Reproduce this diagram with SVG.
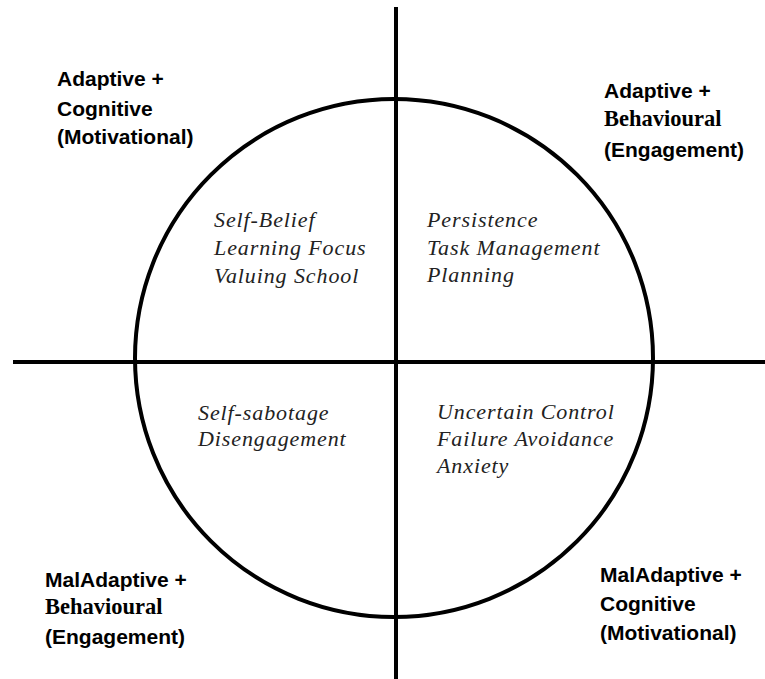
<svg xmlns="http://www.w3.org/2000/svg" width="765" height="679" viewBox="0 0 765 679">
<style>
.lbl{font-family:"Liberation Sans",Arial,sans-serif;font-weight:bold;font-size:21px;fill:#000}
.ser{font-family:"Liberation Serif","Times New Roman",serif;font-weight:bold;font-size:22.5px}
.it{font-family:"Liberation Serif","Times New Roman",serif;font-style:italic;font-size:22px;letter-spacing:0.9px;fill:#222}
.ln{stroke:#000;stroke-width:4;fill:none}
</style>
<rect width="765" height="679" fill="#fff"/>
<g id="connectors">
<circle class="ln" cx="394" cy="358" r="259"/>
<line class="ln" x1="396" y1="7" x2="396" y2="679"/>
<line class="ln" x1="13" y1="362" x2="765" y2="362"/>
</g>
<g id="q-top-left">
<text class="it" x="214" y="227">Self-Belief</text>
<text class="it" x="214" y="255">Learning Focus</text>
<text class="it" x="214" y="283">Valuing School</text>
</g>
<g id="q-top-right">
<text class="it" x="427" y="227">Persistence</text>
<text class="it" x="427" y="255">Task Management</text>
<text class="it" x="427" y="282">Planning</text>
</g>
<g id="q-bottom-left">
<text class="it" x="198" y="420">Self-sabotage</text>
<text class="it" x="198" y="446">Disengagement</text>
</g>
<g id="q-bottom-right">
<text class="it" x="437" y="419">Uncertain Control</text>
<text class="it" x="437" y="446">Failure Avoidance</text>
<text class="it" x="437" y="473">Anxiety</text>
</g>
<g id="label-top-left">
<text class="lbl" x="57" y="86">Adaptive +</text>
<text class="lbl" x="57" y="116">Cognitive</text>
<text class="lbl" x="57" y="144">(Motivational)</text>
</g>
<g id="label-top-right">
<text class="lbl" x="604" y="98">Adaptive +</text>
<text class="lbl ser" x="604" y="126">Behavioural</text>
<text class="lbl" x="604" y="157">(Engagement)</text>
</g>
<g id="label-bottom-left">
<text class="lbl" x="45" y="587">MalAdaptive +</text>
<text class="lbl ser" x="45" y="614">Behavioural</text>
<text class="lbl" x="45" y="644">(Engagement)</text>
</g>
<g id="label-bottom-right">
<text class="lbl" x="600" y="582">MalAdaptive +</text>
<text class="lbl" x="600" y="611">Cognitive</text>
<text class="lbl" x="600" y="640">(Motivational)</text>
</g>
</svg>
